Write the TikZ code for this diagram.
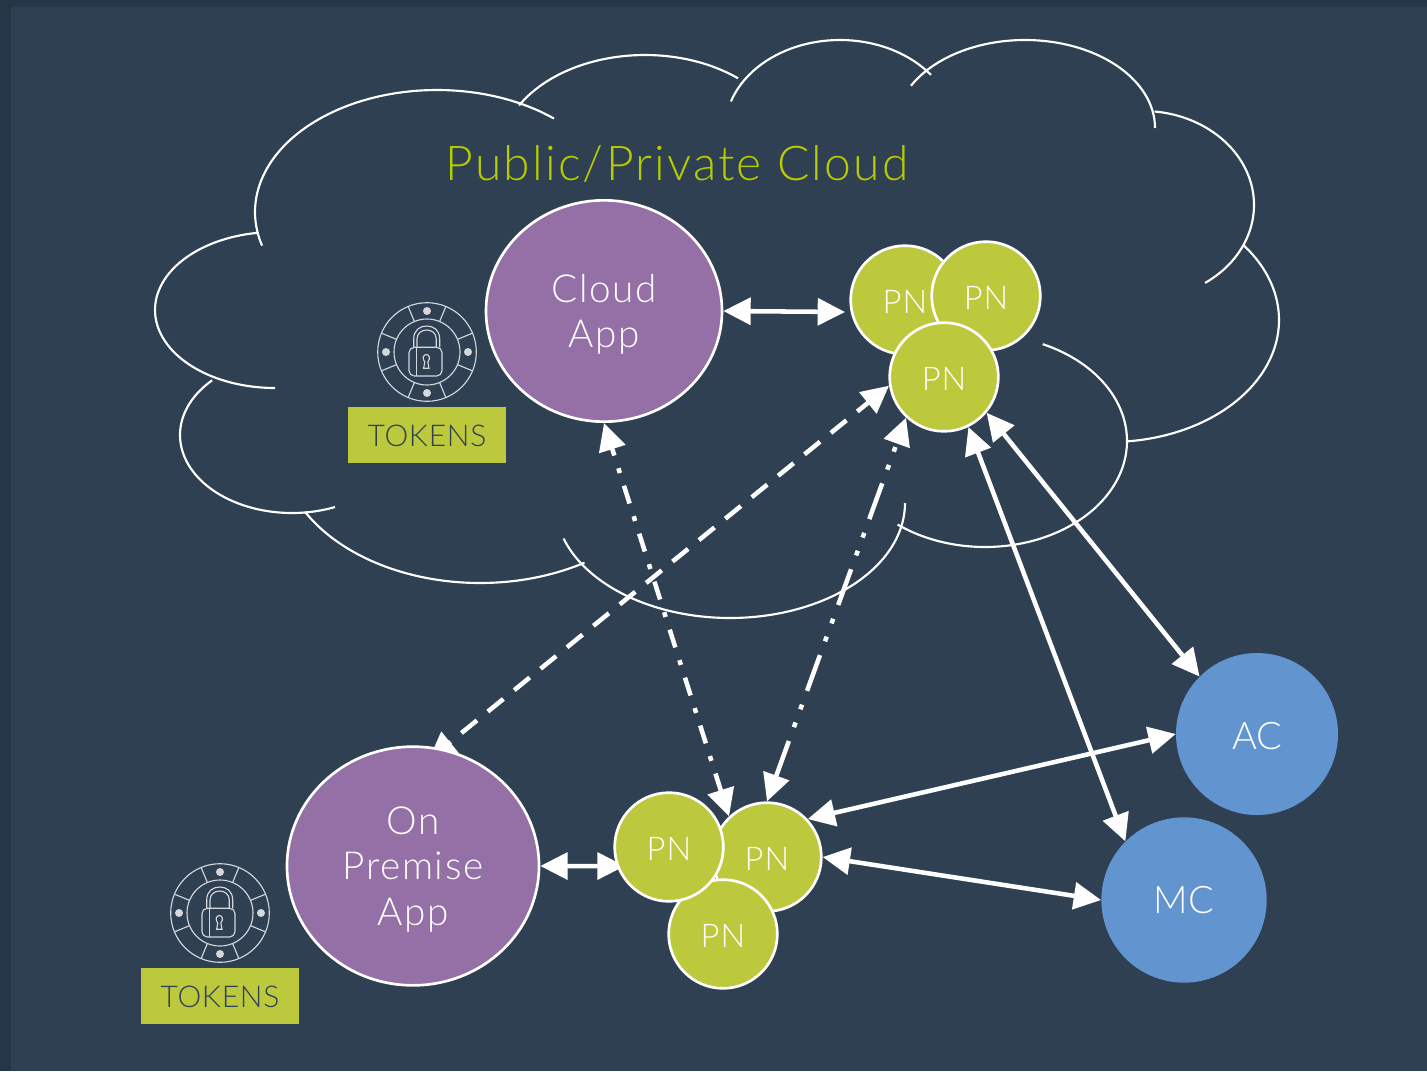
\documentclass[tikz,border=0pt]{standalone}
\usepackage{fontspec}
\setmainfont{Lato}[UprightFont=* Light]
\usetikzlibrary{arrows.meta,shapes.geometric}
\pgfdeclarelayer{back}
\pgfsetlayers{back,main}
\definecolor{edgebg}{HTML}{243747}
\definecolor{mainbg}{HTML}{2F4052}
\definecolor{pngreen}{HTML}{BDC93C}
\definecolor{titlegreen}{HTML}{B7CB00}
\definecolor{apppurple}{HTML}{9470A6}
\definecolor{clientblue}{HTML}{6295CF}
\definecolor{icongrey}{HTML}{D4D7DB}
\definecolor{darktext}{HTML}{2F4052}
\newcommand{\spaced}[1]{\addfontfeatures{LetterSpace=#1}}
\newcommand{\cloudlobe}[6]{\draw[cloudline] plot[domain=#5:#6,samples=60,smooth,variable=\t] ({#1+#3*cos(\t)},{#2+#4*sin(\t)});}
\tikzset{
  x=0.75pt,y=-0.75pt,
  cloudline/.style={draw=white,line width=1.6pt,line cap=butt},
  appnode/.style={ellipse,draw=white,line width=2pt,fill=apppurple,text=white,inner sep=0pt,align=center,font=\fontsize{29}{34}\selectfont\spaced{4}},
  pnnode/.style={circle,draw=white,line width=2pt,fill=pngreen,text=white,inner sep=0pt,minimum size=81.5pt,font=\fontsize{24.5}{28}\selectfont\spaced{3}},
  clientnode/.style={circle,fill=clientblue,text=white,inner sep=0pt,font=\fontsize{28.5}{33}\selectfont},
  tokenbox/.style={rectangle,fill=pngreen,text=darktext,inner sep=0pt,minimum width=118.5pt,minimum height=42pt,font=\fontsize{22.5}{26}\selectfont\spaced{2.5}},
  link/.style={draw=white,line width=3.4pt,>={Triangle[length=20.5pt,width=20pt]},<->},
  dashedlink/.style={link,dash pattern=on 15pt off 10.5pt,dash phase=4pt},
  dashdotlink/.style={link,dash pattern=on 14pt off 10pt on 3.75pt off 10pt},
  dashdotdotlink/.style={link,dash pattern=on 28.5pt off 11pt on 3.75pt off 10.5pt on 3.75pt off 11pt},
  lockicon/.pic={
    \begin{scope}[draw=icongrey,line width=0.85pt]
      \draw (0,0) circle[radius=49.3];
      \draw (0,0) circle[radius=33];
      \foreach \a in {22.5,67.5,...,337.5}{\draw (\a:33) -- (\a:49.3);}
      \foreach \a in {0,90,180,270}{\fill[icongrey,draw=none] (\a:41) circle[radius=4];}
      \draw[rounded corners=4pt] (-18,-4.7) rectangle (15,24);
      \draw (-10.7,-4.7) -- (-10.7,24);
      \draw (-13.3,-4.7) -- (-13.3,-13) .. controls (-13.3,-22) and (-7,-26) .. (-0.3,-26) .. controls (6.4,-26) and (12.7,-22) .. (12.7,-13) -- (12.7,-4.7);
      \draw (-10,-4.7) -- (-10,-13) .. controls (-10,-19) and (-5,-22) .. (-0.3,-22) .. controls (4.4,-22) and (9.3,-19) .. (9.3,-13) -- (9.3,-4.7);
      \draw (-2.2,10) .. controls (-5,7) and (-4,2.5) .. (-0.7,2.5) .. controls (2.6,2.5) and (3.6,7) .. (0.8,10) -- (2,16.3) -- (-3.4,16.3) -- cycle;
    \end{scope}
  }
}
\begin{document}
\begin{tikzpicture}
\useasboundingbox (0,0) rectangle (1427,1071);
% nodes
\node[text=titlegreen,font=\fontsize{36}{40}\selectfont\spaced{4.5}] (title) at (677,164) {Public/Private Cloud};
\node[appnode,minimum width=177pt,minimum height=166pt] (cloudapp) at (604,311) {\rule{0pt}{26pt}Cloud\\App};
\node[pnnode] (pnA) at (905,300) {\rule{0pt}{19.5pt}PN};
\node[pnnode] (pnB) at (986,296) {\rule{0pt}{19.5pt}PN};
\node[pnnode] (pnC) at (944,377) {\rule{0pt}{19.5pt}PN};
\node[appnode,minimum width=189pt,minimum height=179pt] (onprem) at (413,866) {\rule{0pt}{26pt}On\\Premise\\App};
\node[pnnode] (pnR) at (767,857) {\rule{0pt}{19.5pt}PN};
\node[pnnode] (pnD) at (723,934) {\rule{0pt}{19.5pt}PN};
\node[pnnode] (pnL) at (669,847) {\rule{0pt}{19.5pt}PN};
\node[clientnode,minimum size=121.5pt] (ac) at (1257,734) {\rule{0pt}{23pt}AC};
\node[clientnode,minimum size=124pt] (mc) at (1184,900) {MC};
\node[tokenbox] (tokensA) at (427,435) {\rule{0pt}{17.7pt}TOKENS};
\node[tokenbox] (tokensB) at (220,996) {\rule{0pt}{17.7pt}TOKENS};
\pic at (427,352) {lockicon};
\pic at (220,913) {lockicon};
\coordinate (cloudappEnd) at (845,312);
\begin{pgfonlayer}{back}
\fill[edgebg] (0,0) rectangle (1427,1071);
\fill[mainbg] (11,7) rectangle (1427,1071);
% cloud
\cloudlobe{437}{212}{182}{122}{164}{310}
\cloudlobe{275}{310}{120}{78}{90}{262}
\cloudlobe{292}{435}{112}{78}{67.4}{224.5}
\cloudlobe{480}{445}{200}{138}{58.5}{151}
\cloudlobe{730}{503}{175}{115}{0}{162}
\cloudlobe{985}{441}{142}{106}{-66}{128}
\cloudlobe{1110}{320}{169}{122}{-38}{84}
\cloudlobe{1143}{205}{111}{94}{-84}{56}
\cloudlobe{1025}{128}{130}{88}{208.7}{360}
\cloudlobe{840}{130}{115}{90}{198.5}{322.3}
\cloudlobe{645}{155}{145}{100}{209.7}{309.9}
% connectors that run under the nodes
\draw[link,shorten >=-6pt] (onprem.east) -- (pnL.200);
\draw[dashedlink,shorten >=-13pt] (pnC.189) -- (onprem.76.7);
\end{pgfonlayer}
% connectors
\draw[link] (cloudapp.east) -- (cloudappEnd);
\draw[dashdotlink] (pnR.133.5) -- (cloudapp.south);
\draw[dashdotdotlink] (pnR.north) -- (pnC.227);
\draw[link] (pnC.-64.4) -- (mc.135.5);
\draw[link] (pnC.-40.7) -- (ac.135.5);
\draw[link] (pnR.43.5) -- (ac.west);
\draw[link] (pnR.east) -- (mc.west);
\end{tikzpicture}
\end{document}
